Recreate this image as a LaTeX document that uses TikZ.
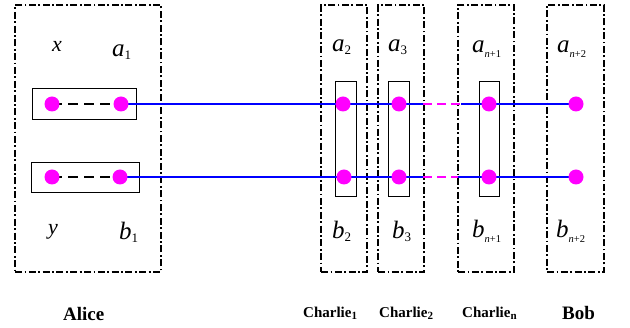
\documentclass[tikz,border=0pt]{standalone}
\usepackage{fontspec}
\setmainfont{Liberation Serif}
\definecolor{qmag}{RGB}{255,0,255}
\definecolor{qblue}{RGB}{0,0,255}
\newcommand{\dsub}[1]{\raisebox{-3pt}{\fontsize{13}{13}\selectfont\upshape #1}}
\newcommand{\nsub}[1]{\raisebox{-5pt}{\fontsize{10.5}{11}\selectfont\itshape n\upshape +#1}}
\newcommand{\csub}[1]{\raisebox{-2pt}{\fontsize{11}{11}\selectfont #1}}
\begin{document}
\begin{tikzpicture}[x=1pt,y=-1pt,
  party/.style={draw,line width=2pt,dash pattern=on 7pt off 2.5pt on 1.8pt off 2.5pt,minimum height=267pt,inner sep=0pt},
  pairbox/.style={draw,line width=0.8pt,inner sep=0pt},
  qubit/.style={circle,fill=qmag,inner sep=0pt,minimum size=15pt},
  link/.style={qblue,line width=1.2pt},
  gap/.style={qmag,line width=2.5pt,dash pattern=on 9pt off 5pt},
  bond/.style={black,line width=2.5pt,dash pattern=on 10pt off 6pt},
  var/.style={font=\fontsize{25}{27}\selectfont\itshape,inner sep=0pt,anchor=base west},
  varx/.style={font=\fontsize{22}{24}\selectfont\itshape,inner sep=0pt,anchor=base west},
  who/.style={font=\fontsize{19}{21}\selectfont\bfseries,inner sep=0pt,anchor=base west},
  whos/.style={font=\fontsize{15}{17}\selectfont\bfseries,inner sep=0pt,anchor=base west}]
\useasboundingbox (0,0) rectangle (630,328);
% party boxes
\node[party,minimum width=146pt] (alice) at (88,138.5) {};
\node[party,minimum width=46pt] (ch1) at (344,138.5) {};
\node[party,minimum width=46pt] (ch2) at (401,138.5) {};
\node[party,minimum width=56pt] (chn) at (486,138.5) {};
\node[party,minimum width=57pt] (bob) at (575.5,138.5) {};
% inner boxes
\node[pairbox,minimum width=104pt,minimum height=31pt] (pa) at (84,103.5) {};
\node[pairbox,minimum width=108pt,minimum height=30pt] (pb) at (85,177) {};
\node[pairbox,minimum width=21pt,minimum height=115pt] (p1) at (345.5,138.5) {};
\node[pairbox,minimum width=21pt,minimum height=115pt] (p2) at (398.5,138.5) {};
\node[pairbox,minimum width=20pt,minimum height=115pt] (pn) at (489,138.5) {};
% coordinates for gaps
\coordinate (ga1) at (423,104);
\coordinate (ga2) at (461,104);
\coordinate (gb1) at (423,177);
\coordinate (gb2) at (458,177);
% qubits positions
\coordinate (xa) at (52,104);
\coordinate (a1) at (121,104);
\coordinate (yb) at (52,177);
\coordinate (b1) at (120,177);
\coordinate (a2) at (343,104);
\coordinate (b2) at (344,177);
\coordinate (a3) at (399,104);
\coordinate (b3) at (399,177);
\coordinate (an) at (489,104);
\coordinate (bn) at (489,177);
\coordinate (ab) at (576,104);
\coordinate (bb) at (576,177);
% links
\draw[link] (a1) -- (a2) -- (a3) -- (ga1);
\draw[gap] (ga1) -- (ga2);
\draw[link] (ga2) -- (an) -- (ab);
\draw[link] (b1) -- (b2) -- (b3) -- (gb1);
\draw[gap] (gb1) -- (gb2);
\draw[link] (gb2) -- (bn) -- (bb);
\draw[bond] (xa) -- (a1);
\draw[bond] (yb) -- (b1);
% dots
\foreach \p in {xa,a1,yb,b1,a2,b2,a3,b3,an,bn,ab,bb}
  \node[qubit] (q\p) at (\p) {};
% labels
\node[varx] (lx) at (52,52) {x};
\node[var] (la1) at (112,57) {a\dsub{1}};
\node[varx] (ly) at (48,235) {y};
\node[var] (lb1) at (119,240) {b\dsub{1}};
\node[var] (la2) at (332,52) {a\dsub{2}};
\node[var] (lb2) at (332,239) {b\dsub{2}};
\node[var] (la3) at (388,52) {a\dsub{3}};
\node[var] (lb3) at (392,239) {b\dsub{3}};
\node[var] (lan) at (472,53) {a\nsub{1}};
\node[var] (lbn) at (472,238) {b\nsub{1}};
\node[var] (lab) at (557,53) {a\nsub{2}};
\node[var] (lbb) at (556,238) {b\nsub{2}};
% names
\node[who] (nalice) at (63,321) {Alice};
\node[whos] (nc1) at (303,318) {Charlie\csub{1}};
\node[whos] (nc2) at (379,318) {Charlie\csub{2}};
\node[whos] (ncn) at (462,318) {Charlie\csub{n}};
\node[who] (nbob) at (562,320) {Bob};
\end{tikzpicture}
\end{document}
